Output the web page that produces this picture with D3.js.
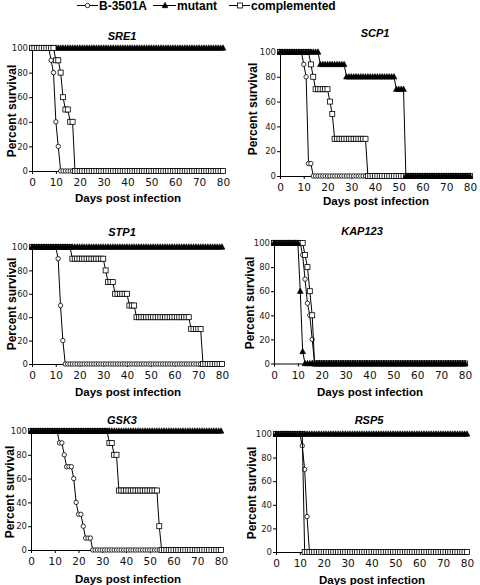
<!DOCTYPE html>
<html><head><meta charset="utf-8">
<script src="https://cdn.jsdelivr.net/npm/d3@7"></script>
<style>body{margin:0;background:#fff}svg{display:block}</style>
</head><body>
<svg id="c" width="480" height="585"></svg>
<script>
// ---------- data ----------
const days = [
 0,1,2,3,4,5,6,7,8,9,
 10,11,12,13,14,15,16,17,18,19,
 20,21,22,23,24,25,26,27,28,29,
 30,31,32,33,34,35,36,37,38,39,
 40,41,42,43,44,45,46,47,48,49,
 50,51,52,53,54,55,56,57,58,59,
 60,61,62,63,64,65,66,67,68,69,
 70,71,72,73,74,75,76,77,78,79,
 80];
const seriesNames = ["B-3501A", "mutant", "complemented"];
const panelTitles = ["SRE1", "SCP1", "STP1", "KAP123", "GSK3", "RSP5"];
const xTicks = [0,10,20,30,40,50,60,70,80];
const yTicks = [0,20,40,60,80,100];
const xLabel = "Days post infection";
const yLabel = "Percent survival";

const sre1_wt = [
 100,100,100,100,100,100,100,100,90,80,
 40,20,0,0,0,0,0,0,0,0,
 0,0,0,0,0,0,0,0,0,0,
 0,0,0,0,0,0,0,0,0,0,
 0,0,0,0,0,0,0,0,0,0,
 0,0,0,0,0,0,0,0,0,0,
 0,0,0,0,0,0,0,0,0,0,
 0,0,0,0,0,0,0,0,0,0,
 0];
const sre1_mut = [
 100,100,100,100,100,100,100,100,100,100,
 100,100,100,100,100,100,100,100,100,100,
 100,100,100,100,100,100,100,100,100,100,
 100,100,100,100,100,100,100,100,100,100,
 100,100,100,100,100,100,100,100,100,100,
 100,100,100,100,100,100,100,100,100,100,
 100,100,100,100,100,100,100,100,100,100,
 100,100,100,100,100,100,100,100,100,100,
 100];
const sre1_comp = [
 100,100,100,100,100,100,100,100,100,100,
 90,90,80,60,50,50,40,40,0,0,
 0,0,0,0,0,0,0,0,0,0,
 0,0,0,0,0,0,0,0,0,0,
 0,0,0,0,0,0,0,0,0,0,
 0,0,0,0,0,0,0,0,0,0,
 0,0,0,0,0,0,0,0,0,0,
 0,0,0,0,0,0,0,0,0,0,
 0];

const scp1_wt = [
 100,100,100,100,100,100,100,100,100,100,
 90,80,10,10,0,0,0,0,0,0,
 0,0,0,0,0,0,0,0,0,0,
 0,0,0,0,0,0,0,0,0,0,
 0,0,0,0,0,0,0,0,0,0,
 0,0,0,0,0,0,0,0,0,0,
 0,0,0,0,0,0,0,0,0,0,
 0,0,0,0,0,0,0,0,0,0,
 0];
const scp1_mut = [
 100,100,100,100,100,100,100,100,100,100,
 100,100,100,100,100,100,100,90,90,90,
 90,90,90,90,90,90,90,90,80,80,
 80,80,80,80,80,80,80,80,80,80,
 80,80,80,80,80,80,80,80,80,70,
 70,70,70,0,0,0,0,0,0,0,
 0,0,0,0,0,0,0,0,0,0,
 0,0,0,0,0,0,0,0,0,0,
 0];
const scp1_comp = [
 100,100,100,100,100,100,100,100,100,100,
 100,100,100,90,80,70,70,70,70,70,
 70,60,50,30,30,30,30,30,30,30,
 30,30,30,30,30,30,30,0,0,0,
 0,0,0,0,0,0,0,0,0,0,
 0,0,0,0,0,0,0,0,0,0,
 0,0,0,0,0,0,0,0,0,0,
 0,0,0,0,0,0,0,0,0,0,
 0];

const stp1_wt = [
 100,100,100,100,100,100,100,100,100,100,
 100,90,50,20,0,0,0,0,0,0,
 0,0,0,0,0,0,0,0,0,0,
 0,0,0,0,0,0,0,0,0,0,
 0,0,0,0,0,0,0,0,0,0,
 0,0,0,0,0,0,0,0,0,0,
 0,0,0,0,0,0,0,0,0,0,
 0,0,0,0,0,0,0,0,0,0,
 0];
const stp1_mut = [
 100,100,100,100,100,100,100,100,100,100,
 100,100,100,100,100,100,100,100,100,100,
 100,100,100,100,100,100,100,100,100,100,
 100,100,100,100,100,100,100,100,100,100,
 100,100,100,100,100,100,100,100,100,100,
 100,100,100,100,100,100,100,100,100,100,
 100,100,100,100,100,100,100,100,100,100,
 100,100,100,100,100,100,100,100,100,100,
 100];
const stp1_comp = [
 100,100,100,100,100,100,100,100,100,100,
 100,100,100,100,100,100,100,90,90,90,
 90,90,90,90,90,90,90,90,90,90,
 90,80,70,70,70,60,60,60,60,60,
 60,50,50,50,40,40,40,40,40,40,
 40,40,40,40,40,40,40,40,40,40,
 40,40,40,40,40,40,40,30,30,30,
 30,30,0,0,0,0,0,0,0,0,
 0];

const kap_wt = [
 100,100,100,100,100,100,100,100,100,100,
 100,100,90,70,50,40,20,0,0,0,
 0,0,0,0,0,0,0,0,0,0,
 0,0,0,0,0,0,0,0,0,0,
 0,0,0,0,0,0,0,0,0,0,
 0,0,0,0,0,0,0,0,0,0,
 0,0,0,0,0,0,0,0,0,0,
 0,0,0,0,0,0,0,0,0,0,
 0];
const kap_mut = [
 100,100,100,100,100,100,100,100,100,100,
 100,60,10,0,0,0,0,0,0,0,
 0,0,0,0,0,0,0,0,0,0,
 0,0,0,0,0,0,0,0,0,0,
 0,0,0,0,0,0,0,0,0,0,
 0,0,0,0,0,0,0,0,0,0,
 0,0,0,0,0,0,0,0,0,0,
 0,0,0,0,0,0,0,0,0,0,
 0];
const kap_comp = [
 100,100,100,100,100,100,100,100,100,100,
 100,100,100,90,80,60,40,0,0,0,
 0,0,0,0,0,0,0,0,0,0,
 0,0,0,0,0,0,0,0,0,0,
 0,0,0,0,0,0,0,0,0,0,
 0,0,0,0,0,0,0,0,0,0,
 0,0,0,0,0,0,0,0,0,0,
 0,0,0,0,0,0,0,0,0,0,
 0];

const gsk_wt = [
 100,100,100,100,100,100,100,100,100,100,
 100,100,90,90,80,70,70,70,60,40,
 30,30,20,10,10,10,0,0,0,0,
 0,0,0,0,0,0,0,0,0,0,
 0,0,0,0,0,0,0,0,0,0,
 0,0,0,0,0,0,0,0,0,0,
 0,0,0,0,0,0,0,0,0,0,
 0,0,0,0,0,0,0,0,0,0,
 0];
const gsk_mut = [
 100,100,100,100,100,100,100,100,100,100,
 100,100,100,100,100,100,100,100,100,100,
 100,100,100,100,100,100,100,100,100,100,
 100,100,100,100,100,100,100,100,100,100,
 100,100,100,100,100,100,100,100,100,100,
 100,100,100,100,100,100,100,100,100,100,
 100,100,100,100,100,100,100,100,100,100,
 100,100,100,100,100,100,100,100,100,100,
 100];
const gsk_comp = [
 100,100,100,100,100,100,100,100,100,100,
 100,100,100,100,100,100,100,100,100,100,
 100,100,100,100,100,100,100,100,100,100,
 100,100,100,90,90,80,80,50,50,50,
 50,50,50,50,50,50,50,50,50,50,
 50,50,50,50,20,0,0,0,0,0,
 0,0,0,0,0,0,0,0,0,0,
 0,0,0,0,0,0,0,0,0,0,
 0];

const rsp_wt = [
 100,100,100,100,100,100,100,100,100,100,
 100,90,70,30,0,0,0,0,0,0,
 0,0,0,0,0,0,0,0,0,0,
 0,0,0,0,0,0,0,0,0,0,
 0,0,0,0,0,0,0,0,0,0,
 0,0,0,0,0,0,0,0,0,0,
 0,0,0,0,0,0,0,0,0,0,
 0,0,0,0,0,0,0,0,0,0,
 0];
const rsp_mut = [
 100,100,100,100,100,100,100,100,100,100,
 100,100,100,100,100,100,100,100,100,100,
 100,100,100,100,100,100,100,100,100,100,
 100,100,100,100,100,100,100,100,100,100,
 100,100,100,100,100,100,100,100,100,100,
 100,100,100,100,100,100,100,100,100,100,
 100,100,100,100,100,100,100,100,100,100,
 100,100,100,100,100,100,100,100,100,100,
 100];
const rsp_comp = [
 100,100,100,100,100,100,100,100,100,100,
 100,100,0,0,0,0,0,0,0,0,
 0,0,0,0,0,0,0,0,0,0,
 0,0,0,0,0,0,0,0,0,0,
 0,0,0,0,0,0,0,0,0,0,
 0,0,0,0,0,0,0,0,0,0,
 0,0,0,0,0,0,0,0,0,0,
 0,0,0,0,0,0,0,0,0,0,
 0];

// series per panel: [B-3501A, mutant, complemented]
const panelSeries = [
  [sre1_wt, sre1_mut, sre1_comp],
  [scp1_wt, scp1_mut, scp1_comp],
  [stp1_wt, stp1_mut, stp1_comp],
  [kap_wt, kap_mut, kap_comp],
  [gsk_wt, gsk_mut, gsk_comp],
  [rsp_wt, rsp_mut, rsp_comp]
];
panelSeries.flat().forEach((s,i)=>{ if(s.length!==days.length) throw new Error("bad length "+i+" "+s.length); });

// ---------- layout (pixels) ----------
const layout = [
  {x:[32,223],  y:[171,48],    tx:122, ty:40,  lx:12,  ly:111, bx:128, by:202, order:[1,0,2]},
  {x:[280,470], y:[176,52],    tx:375, ty:37,  lx:253, ly:109, bx:376, by:205, order:[0,2,1]},
  {x:[32,222],  y:[364,247],   tx:122, ty:236, lx:12,  ly:304, bx:128, by:396, order:[0,2,1]},
  {x:[274,465], y:[363.5,243], tx:362, ty:235, lx:250, ly:303, bx:370, by:396, order:[0,2,1]},
  {x:[31,221],  y:[550,431],   tx:122, ty:424, lx:10,  ly:492, bx:128, by:583, order:[0,2,1]},
  {x:[276,467], y:[552,434],   tx:369, ty:424, lx:252, ly:493, bx:372, by:584, order:[0,2,1]}
];

const svg = d3.select("#c");
const FONT = "'Liberation Sans', Arial, Helvetica, sans-serif";
const TICKFONT = "'DejaVu Sans', Verdana, sans-serif";

function drawMarker(g, type, x, y) {
  if (type === 0) {
    g.append("circle").attr("cx", x).attr("cy", y).attr("r", 2.2)
      .attr("fill", "#fff").attr("stroke", "#000").attr("stroke-width", 0.8);
  } else if (type === 1) {
    g.append("path").attr("d", `M${x},${y-3.2}L${x+2.9},${y+2.2}L${x-2.9},${y+2.2}Z`)
      .attr("fill", "#000").attr("stroke", "#000").attr("stroke-width", 0.6);
  } else {
    g.append("rect").attr("x", x-2.5).attr("y", y-2.5).attr("width", 5).attr("height", 5)
      .attr("fill", "#fff").attr("stroke", "#000").attr("stroke-width", 0.8);
  }
}

layout.forEach((L, pi) => {
  const x = d3.scaleLinear().domain([0, 80]).range(L.x);
  const y = d3.scaleLinear().domain([0, 100]).range(L.y);
  const g = svg.append("g");

  // axes
  const ax = g.append("g").attr("transform", `translate(0,${L.y[0]})`)
    .call(d3.axisBottom(x).tickValues(xTicks).tickSize(3).tickSizeOuter(0).tickPadding(5));
  ax.selectAll("text").attr("font-family", TICKFONT).attr("font-size", 10.5).attr("fill", "#111");
  const ay = g.append("g").attr("transform", `translate(${L.x[0]},0)`)
    .call(d3.axisLeft(y).tickValues(yTicks).tickSize(3).tickSizeOuter(0).tickPadding(1));
  ay.selectAll("text").attr("font-family", TICKFONT).attr("font-size", 8.5).attr("fill", "#222");
  g.selectAll(".domain, .tick line").attr("stroke", "#000").attr("stroke-width", 1);

  // series
  const line = d3.line().x((d, i) => x(days[i])).y(d => y(d));
  L.order.forEach(si => {
    const vals = panelSeries[pi][si];
    const sg = g.append("g");
    sg.append("path").attr("d", line(vals)).attr("fill", "none")
      .attr("stroke", "#000").attr("stroke-width", 1);
    vals.forEach((v, i) => drawMarker(sg, si, x(days[i]), y(v)));
  });

  // title
  g.append("text").attr("x", L.tx).attr("y", L.ty).attr("text-anchor", "middle")
    .attr("font-family", FONT).attr("font-size", 11).attr("font-style", "italic")
    .attr("font-weight", "bold").text(panelTitles[pi]);
  // y label
  g.append("text").attr("transform", `translate(${L.lx},${L.ly}) rotate(-90)`)
    .attr("dy", "0.35em").attr("text-anchor", "middle")
    .attr("font-family", FONT).attr("font-size", 12).attr("font-weight", "bold").text(yLabel);
  // x label
  g.append("text").attr("x", L.bx).attr("y", L.by).attr("text-anchor", "middle")
    .attr("font-family", FONT).attr("font-size", 11.5).attr("font-weight", "bold").text(xLabel);
});

// legend
const legend = [
  {lx0:77, lx1:98, mx:87.5, tx:99},
  {lx0:153, lx1:176, mx:165, tx:177},
  {lx0:229, lx1:250, mx:240, tx:251}
];
const lg = svg.append("g");
legend.forEach((L, i) => {
  lg.append("line").attr("x1", L.lx0).attr("x2", L.lx1).attr("y1", 5.5).attr("y2", 5.5)
    .attr("stroke", "#000").attr("stroke-width", 1);
  drawMarker(lg, i, L.mx, 5.5);
  lg.append("text").attr("x", L.tx).attr("y", 10).attr("font-family", FONT)
    .attr("font-size", 12).attr("font-weight", "bold").text(seriesNames[i]);
});
</script>
</body></html>
